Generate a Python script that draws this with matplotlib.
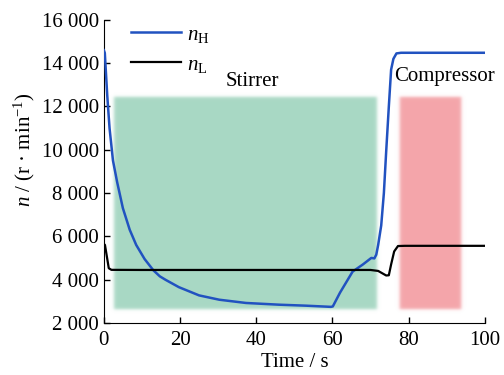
import numpy as np
import matplotlib.pyplot as plt
from matplotlib.ticker import FuncFormatter

plt.rcParams['font.family'] = 'Liberation Serif'
plt.rcParams['mathtext.fontset'] = 'custom'
plt.rcParams['mathtext.rm'] = 'Liberation Serif'
plt.rcParams['mathtext.it'] = 'Liberation Serif:italic'
plt.rcParams['font.size'] = 15

#blue curve: high pressure speed n_H
t_high = [0, 0.26, 0.9, 1.5, 2.4, 3.5, 5, 6.8, 8.5, 10.7, 13, 14.7, 16.2, 19.7, 25, 30.3, 37.3,
          46, 53, 59.6, 60.1, 62, 65.3, 68, 70.2, 71, 71.5, 72, 72.8, 73.5, 74.1,
          74.8, 75.4, 76, 76.8, 78, 100]
n_high = [14600, 14470, 12500, 11000, 9500, 8500, 7300, 6300, 5600, 4950, 4430, 4150, 3990, 3650,
          3270, 3070, 2920, 2840, 2795, 2740, 2760, 3400, 4370, 4700, 5000, 4980,
          5150, 5600, 6500, 8000, 9900, 12000, 13700, 14200, 14450, 14480, 14480]

#black curve: low pressure speed n_L
t_low = [0, 0.3, 1.3, 2, 10, 70, 72, 73.5, 74.1, 74.8, 75.4, 76.2, 77.2, 79, 100]
n_low = [5650, 5600, 4525, 4450, 4445, 4445, 4400, 4250, 4190, 4200, 4700, 5300, 5550, 5560, 5560]

#shaded phases (start, end, bottom, top, color)
zones = [(2.6, 71.8, 2600, 12400, (0.66, 0.85, 0.77)), (77.6, 93.7, 2600, 12400, (0.96, 0.65, 0.67))]
zone_names = ['Stirrer', 'Compressor']
name_pos = [(39, 13150), (89.5, 13400)]

fig = plt.figure(figsize=(5.04, 3.75), dpi=100)
ax = fig.add_axes([0.206, 0.139, 0.756, 0.808])

#blurred blocks: smooth step edges drawn as an image
for x0, x1, y0, y1, c in zones:
  px, py = 2.0, 300
  xs = np.linspace(x0 - px, x1 + px, 300)
  ys = np.linspace(y0 - py, y1 + py, 300)
  wx, wy = 0.5, 80
  fx = 0.25 * (1 + np.tanh((xs - x0) / wx)) * (1 - np.tanh((xs - x1) / wx))
  fy = 0.25 * (1 + np.tanh((ys - y0) / wy)) * (1 - np.tanh((ys - y1) / wy))
  rgba = np.zeros((len(ys), len(xs), 4))
  rgba[..., :3] = c
  rgba[..., 3] = np.outer(fy, fx)
  ax.imshow(rgba, extent=(xs[0], xs[-1], ys[0], ys[-1]), origin='lower',
            aspect='auto', zorder=1, interpolation='bilinear')

for name, (x, y) in zip(zone_names, name_pos):
  ax.text(x, y, name, ha='center', va='center', fontsize=15)

ax.plot(t_high, n_high, color='#2152c0', lw=1.8, label=r'$n_{\mathrm{H}}$', zorder=3)
ax.plot(t_low, n_low, color='black', lw=1.6, label=r'$n_{\mathrm{L}}$', zorder=3)

ax.set_xlim(0, 100)
ax.set_ylim(2000, 16000)
ax.set_xticks([0, 20, 40, 60, 80, 100])
ax.set_yticks(np.arange(2000, 16001, 2000))
ax.yaxis.set_major_formatter(FuncFormatter(lambda v, p: f'{int(v):,}'.replace(',', ' ')))
ax.tick_params(direction='in', length=4, width=1, labelsize=15)
ax.tick_params(axis='x', pad=6)
for s in ['top', 'right']:
  ax.spines[s].set_visible(False)
ax.set_xlabel('Time / s', fontsize=15, labelpad=2)
ax.set_ylabel(r'$n$ / (r · min$^{-1}$)', fontsize=15)
ax.yaxis.set_label_coords(-0.175, 0.57)

ax.legend(loc='upper left', frameon=False, handlelength=2.4, handletextpad=0.3,
          labelspacing=0.5, bbox_to_anchor=(0.022, 1.045), fontsize=15)

fig.savefig('out.png', dpi=100)
